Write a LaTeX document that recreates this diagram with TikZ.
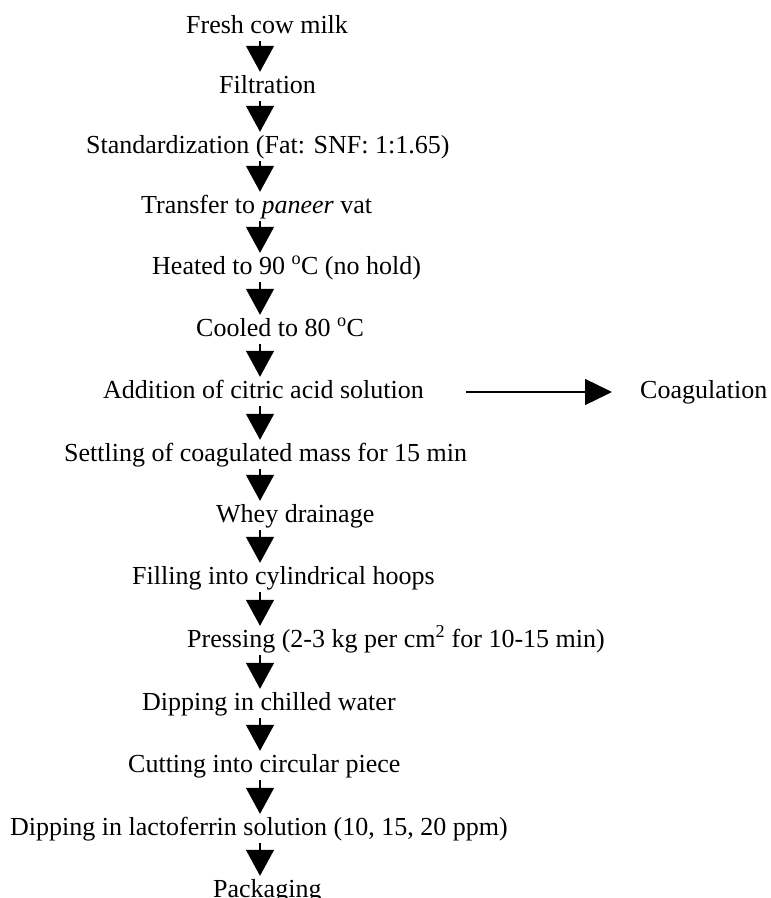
\documentclass[tikz,border=0pt]{standalone}
\usepackage{fontspec}
\setmainfont{Liberation Serif}
\usetikzlibrary{arrows.meta,calc}
\begin{document}
\begin{tikzpicture}[x=1pt,y=-1pt,
  lbl/.style={anchor=base west,inner sep=0pt,text height=18pt,text depth=6pt,font=\fontsize{26}{30}\selectfont},
  flow/.style={line width=1.2pt,-{Triangle[length=26pt,width=28pt]},shorten <=2pt,shorten >=3pt},
  side/.style={line width=1.4pt,-{Triangle[length=27pt,width=26pt]},shorten <=42pt,shorten >=28pt}]
\useasboundingbox (0,0) rectangle (771,898);
\coordinate (axis) at (260,0);
\node[lbl] (n1) at (186,33) {Fresh cow milk};
\node[lbl] (n2) at (219,93) {Filtration};
\node[lbl] (n3) at (86,153) {Standardization (Fat: SNF: 1:1.65)};
\node[lbl] (n4) at (141,213) {Transfer to \textit{paneer} vat};
\node[lbl] (n5) at (152,274) {Heated to 90 \textsuperscript{o}C (no hold)};
\node[lbl] (n6) at (196,336) {Cooled to 80 \textsuperscript{o}C};
\node[lbl] (n7) at (103,398) {Addition of citric acid solution};
\node[lbl] (c) at (640,398) {Coagulation};
\node[lbl] (n8) at (64,461) {Settling of coagulated mass for 15 min};
\node[lbl] (n9) at (216,522) {Whey drainage};
\node[lbl] (n10) at (132,584) {Filling into cylindrical hoops};
\node[lbl] (n11) at (187,647) {Pressing (2-3 kg per cm\textsuperscript{2} for 10-15 min)};
\node[lbl] (n12) at (142,710) {Dipping in chilled water};
\node[lbl] (n13) at (128,772) {Cutting into circular piece};
\node[lbl] (n14) at (10,835) {Dipping in lactoferrin solution (10, 15, 20 ppm)};
\node[lbl] (n15) at (213,897) {Packaging};
\foreach \a/\b in {n1/n2,n2/n3,n3/n4,n4/n5,n5/n6,n6/n7,n7/n8,n8/n9,n9/n10,n10/n11,n11/n12,n12/n13,n13/n14,n14/n15}
  \draw[flow] (\a.south -| axis) -- (\b.north -| axis);
\draw[side] (n7.east) -- (c.west);
\end{tikzpicture}
\end{document}
